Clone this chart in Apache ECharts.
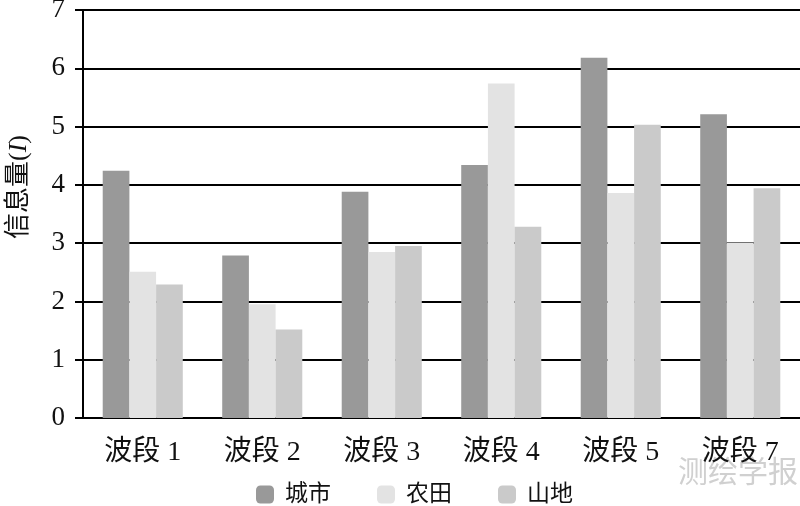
<!DOCTYPE html>
<html><head><meta charset="utf-8">
<script src="https://cdn.jsdelivr.net/npm/echarts@6/dist/echarts.min.js"></script>
<style>html,body{margin:0;padding:0;background:#fff}#c{width:800px;height:506px}</style>
</head><body><div id="c"></div>
<script>
const categories = ['波段 1','波段 2','波段 3','波段 4','波段 5','波段 7'];
const cityValues = [4.24, 2.79, 3.88, 4.34, 6.18, 5.21];
const farmValues = [2.51, 1.95, 2.85, 5.74, 3.86, 3.01];
const mountainValues = [2.29, 1.52, 2.95, 3.28, 5.03, 3.94];
const yTicks = [0,1,2,3,4,5,6,7];

const serif = '"Liberation Serif","Noto Sans CJK SC",serif';
const chart = echarts.init(document.getElementById('c'));
chart.setOption({
  animation: false,
  backgroundColor: '#fff',
  grid: {left: 83, right: 0, top: 10, bottom: 88, containLabel: false, outerBoundsMode: 'none'},
  legend: {
    bottom: -5, left: 251, itemWidth: 18, itemHeight: 18, itemGap: 46,
    textStyle: {fontFamily: serif, fontSize: 23, color: '#111', padding: [0,0,0,6]},
    data: ['城市','农田','山地']
  },
  xAxis: {
    type: 'category', data: categories,
    axisLine: {show: true, lineStyle: {color: '#000', width: 2}},
    axisTick: {show: false},
    axisLabel: {fontFamily: serif, fontSize: 28, color: '#111', margin: 21}
  },
  yAxis: {
    type: 'value', min: 0, max: 7, interval: 1,
    name: '信息量({i|I})', nameLocation: 'middle', nameGap: 51,
    nameTextStyle: {fontFamily: serif, fontSize: 26, color: '#111', padding: [0,0,0,54],
      rich: {i: {fontFamily: serif, fontSize: 26, fontStyle: 'italic', color: '#111'}}},
    axisLine: {show: true, lineStyle: {color: '#000', width: 2}},
    axisTick: {show: true, length: 8, lineStyle: {color: '#000', width: 2}},
    axisLabel: {fontFamily: serif, fontSize: 27, color: '#111', margin: 18,
      formatter: v => yTicks.includes(v) ? String(v) : ''},
    splitLine: {show: true, lineStyle: {color: '#000', width: 2}}
  },
  series: [
    {name: '城市', type: 'bar', data: cityValues, itemStyle: {color: '#999999'}, barGap: '0%', barCategoryGap: '33%'},
    {name: '农田', type: 'bar', data: farmValues, itemStyle: {color: '#e3e3e3'}},
    {name: '山地', type: 'bar', data: mountainValues, itemStyle: {color: '#cacaca'}}
  ],
  graphic: [{
    type: 'text', right: 2, top: 456,
    style: {text: '测绘学报', font: '30px "Noto Sans CJK SC"', fill: '#d0d0d0'}
  }]
});
</script></body></html>
